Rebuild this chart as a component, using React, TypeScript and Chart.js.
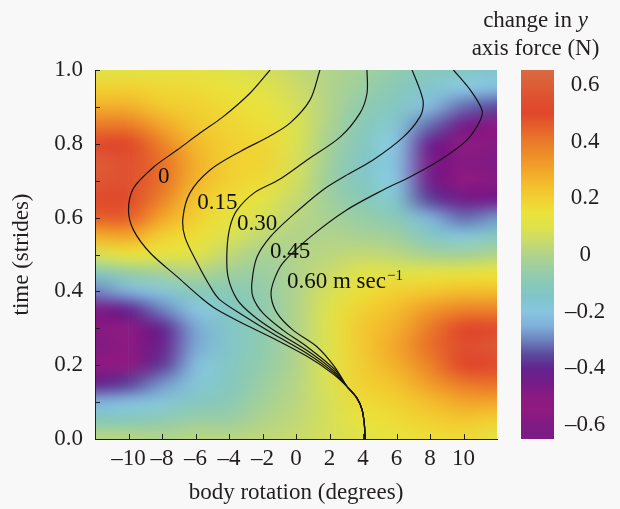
import React, { useEffect, useRef } from 'react';
import { Chart, registerables } from 'chart.js';

Chart.register(...registerables);

const FONT = "'Liberation Serif', 'Times New Roman', Times, serif";
const INK = '#231f20';

// ---- axis ticks ----
const xTickValues = [-10, -8, -6, -4, -2, 0, 2, 4, 6, 8, 10];
const yTickValues = [0, 0.1, 0.2, 0.3, 0.4, 0.5, 0.6, 0.7, 0.8, 0.9, 1.0];
const yLabelledTicks = ['0.0', '0.2', '0.4', '0.6', '0.8', '1.0'];
const cbTickValues = [-0.6, -0.4, -0.2, 0, 0.2, 0.4, 0.6];

// ---- heat map grid (change in y axis force, N) ----
const gridX = [-12, -10, -8, -6, -4, -2, 0, 2, 4, 6, 8, 10, 12];
const gridT = [0, 0.05, 0.1, 0.15, 0.2, 0.25, 0.3, 0.35, 0.4, 0.45, 0.5, 0.55, 0.6, 0.65, 0.7, 0.75, 0.8, 0.85, 0.9, 0.95, 1.0];
// each column: values at gridT (t = 0 ... 1)
const forceAtXm12 = [0.02, -0.1, -0.25, -0.42, -0.55, -0.6, -0.58, -0.48, -0.3, -0.12, 0.08, 0.28, 0.45, 0.52, 0.58, 0.6, 0.52, 0.4, 0.28, 0.2, 0.1];
const forceAtXm10 = [0.02, -0.1, -0.22, -0.36, -0.5, -0.56, -0.52, -0.4, -0.25, -0.06, 0.14, 0.3, 0.45, 0.52, 0.55, 0.55, 0.5, 0.4, 0.28, 0.2, 0.12];
const forceAtXm8 = [0.0, -0.08, -0.18, -0.28, -0.37, -0.42, -0.4, -0.3, -0.18, -0.03, 0.12, 0.2, 0.3, 0.38, 0.42, 0.42, 0.38, 0.3, 0.22, 0.18, 0.12];
const forceAtXm6 = [0.02, -0.05, -0.12, -0.18, -0.22, -0.26, -0.26, -0.2, -0.1, 0.0, 0.1, 0.16, 0.2, 0.23, 0.27, 0.28, 0.26, 0.22, 0.2, 0.17, 0.12];
const forceAtXm4 = [0.02, -0.05, -0.09, -0.12, -0.13, -0.14, -0.14, -0.13, -0.1, -0.04, 0.03, 0.09, 0.13, 0.17, 0.2, 0.2, 0.2, 0.19, 0.17, 0.14, 0.1];
const forceAtXm2 = [0.03, 0.0, -0.03, -0.05, -0.07, -0.08, -0.08, -0.08, -0.07, -0.05, -0.02, 0.03, 0.08, 0.12, 0.17, 0.19, 0.18, 0.16, 0.14, 0.11, 0.08];
const forceAtX0 = [0.05, 0.03, 0.02, 0.01, 0.0, 0.0, 0.0, 0.0, 0.0, 0.0, 0.0, 0.0, 0.02, 0.04, 0.07, 0.08, 0.09, 0.09, 0.08, 0.06, 0.04];
const forceAtX2 = [0.08, 0.08, 0.08, 0.09, 0.1, 0.1, 0.1, 0.1, 0.08, 0.05, 0.02, 0.0, -0.02, -0.04, -0.05, -0.04, -0.03, -0.01, 0.0, 0.0, 0.0];
const forceAtX4 = [0.1, 0.14, 0.17, 0.2, 0.21, 0.22, 0.22, 0.2, 0.16, 0.1, 0.04, -0.02, -0.06, -0.1, -0.13, -0.14, -0.12, -0.1, -0.08, -0.05, -0.03];
const forceAtX6 = [0.14, 0.17, 0.2, 0.24, 0.28, 0.3, 0.28, 0.25, 0.2, 0.1, 0.02, -0.04, -0.1, -0.16, -0.2, -0.21, -0.2, -0.17, -0.13, -0.1, -0.08];
const forceAtX8 = [0.16, 0.2, 0.25, 0.32, 0.38, 0.42, 0.4, 0.33, 0.22, 0.12, -0.02, -0.13, -0.25, -0.36, -0.44, -0.46, -0.42, -0.32, -0.23, -0.16, -0.1];
const forceAtX10 = [0.17, 0.22, 0.3, 0.4, 0.5, 0.53, 0.5, 0.38, 0.25, 0.13, -0.03, -0.18, -0.32, -0.45, -0.55, -0.58, -0.55, -0.45, -0.32, -0.2, -0.13];
const forceAtX12 = [0.12, 0.2, 0.3, 0.42, 0.52, 0.58, 0.52, 0.38, 0.25, 0.15, 0.0, -0.12, -0.28, -0.45, -0.58, -0.6, -0.58, -0.5, -0.35, -0.22, -0.15];
const heatColumns = [
  forceAtXm12, forceAtXm10, forceAtXm8, forceAtXm6, forceAtXm4, forceAtXm2, forceAtX0,
  forceAtX2, forceAtX4, forceAtX6, forceAtX8, forceAtX10, forceAtX12,
];

// ---- colour scale ----
const cmapValues = [-0.65, -0.6, -0.55, -0.5, -0.45, -0.4, -0.35, -0.3, -0.25, -0.2, -0.15, -0.1, -0.05, 0, 0.05, 0.1, 0.15, 0.2, 0.25, 0.3, 0.35, 0.4, 0.45, 0.5, 0.55, 0.6, 0.65];
const cmapColors = [
  '#7b1c85', '#7f1a84', '#8f1a81', '#8c1a82', '#741c89', '#62248f', '#5c4a9c', '#6d82be', '#7fb0da',
  '#88c5e0', '#81c5cb', '#88c9b8', '#9bcea3', '#b1d38b', '#cadb6c', '#dfe24a', '#ebe23a', '#f1d032',
  '#f3bd2d', '#f2a52a', '#ef8f28', '#ea7a29', '#e5602a', '#e0482a', '#df5030', '#dd5d36', '#d86a42',
];

// ---- trajectories (body rotation, time) for each speed ----
const curveNames = ['0', '0.15', '0.30', '0.45', '0.60'];
const curveSpeed000 = [[4.12, 0], [4.08, 0.04], [3.94, 0.08], [3.62, 0.112], [3.05, 0.142], [2.2, 0.177], [0.66, 0.224], [-1.37, 0.273], [-3.34, 0.317], [-4.7, 0.35], [-5.6, 0.38], [-7.1, 0.44], [-8.7, 0.504], [-9.7, 0.566], [-10.0, 0.62], [-9.7, 0.68], [-8.5, 0.737], [-7.1, 0.783], [-5.73, 0.829], [-4.36, 0.873], [-2.75, 0.937], [-1.55, 1.0]];
const curveSpeed015 = [[4.12, 0], [4.08, 0.04], [3.94, 0.08], [3.62, 0.112], [3.05, 0.142], [2.22, 0.181], [0.66, 0.232], [-1.37, 0.285], [-3.34, 0.34], [-4.54, 0.377], [-5.0, 0.404], [-5.9, 0.477], [-6.63, 0.547], [-6.75, 0.6], [-6.33, 0.667], [-5.13, 0.729], [-3.3, 0.78], [-1.6, 0.82], [-0.36, 0.856], [0.84, 0.919], [1.43, 1.0]];
const curveSpeed030 = [[4.12, 0], [4.08, 0.04], [3.94, 0.08], [3.62, 0.112], [3.05, 0.142], [2.25, 0.185], [0.66, 0.24], [-1.37, 0.296], [-2.6, 0.336], [-3.5, 0.377], [-4.06, 0.44], [-4.12, 0.512], [-3.94, 0.575], [-3.52, 0.62], [-2.5, 0.667], [-1.0, 0.703], [0.66, 0.756], [2.63, 0.818], [3.82, 0.883], [4.24, 0.937], [4.24, 1.0]];
const curveSpeed045 = [[4.12, 0], [4.08, 0.04], [3.94, 0.08], [3.62, 0.112], [3.05, 0.142], [2.3, 0.189], [0.66, 0.25], [-0.78, 0.295], [-1.97, 0.341], [-2.57, 0.385], [-2.63, 0.425], [-2.33, 0.493], [-1.55, 0.547], [-0.36, 0.6], [1.6, 0.675], [2.9, 0.712], [4.6, 0.756], [6.4, 0.818], [7.4, 0.873], [7.6, 0.91], [7.4, 0.946], [6.93, 1.0]];
const curveSpeed060 = [[4.12, 0], [4.08, 0.04], [3.94, 0.08], [3.62, 0.112], [3.05, 0.142], [2.35, 0.193], [1.25, 0.25], [-0.18, 0.295], [-1.13, 0.341], [-1.48, 0.385], [-1.37, 0.423], [-0.78, 0.477], [0.84, 0.547], [3.0, 0.62], [5.2, 0.675], [6.8, 0.71], [8.6, 0.756], [10.2, 0.81], [11.0, 0.864], [11.1, 0.892], [10.4, 0.946], [9.4, 1.0]];
const curves = [curveSpeed000, curveSpeed015, curveSpeed030, curveSpeed045, curveSpeed060];

// label anchors (data coordinates: body rotation, time) – left/baseline of text
const curveLabelX = [-8.24, -5.9, -3.52, -1.55, -0.54];
const curveLabelT = [0.694, 0.623, 0.566, 0.49, 0.409];
const unitText = ' m sec';
const unitSup = '\u22121';

const fmtMinus = (v: number, digits: number) => {
  const s = Math.abs(v).toFixed(digits);
  return v < -1e-9 ? '\u2013' + s : s;
};

function hexToRgb(h: string) {
  const n = parseInt(h.slice(1), 16);
  return [(n >> 16) & 255, (n >> 8) & 255, n & 255];
}

function colorFor(v: number) {
  const n = cmapValues.length;
  if (v <= cmapValues[0]) return hexToRgb(cmapColors[0]);
  if (v >= cmapValues[n - 1]) return hexToRgb(cmapColors[n - 1]);
  for (let i = 0; i < n - 1; i++) {
    if (v <= cmapValues[i + 1]) {
      const f = (v - cmapValues[i]) / (cmapValues[i + 1] - cmapValues[i]);
      const a = hexToRgb(cmapColors[i]);
      const b = hexToRgb(cmapColors[i + 1]);
      return a.map((c, k) => Math.round(c + (b[k] - c) * f));
    }
  }
  return hexToRgb(cmapColors[n - 1]);
}

const heatmapPlugin = {
  id: 'heatmap',
  beforeDraw(chart: any) {
    const { ctx, chartArea, scales } = chart;
    const xs = scales.x;
    const ys = scales.y;
    ctx.save();
    ctx.fillStyle = '#f8f8f8';
    ctx.fillRect(0, 0, chart.width, chart.height);
    const nx = gridX.length;
    const nt = gridT.length;
    const off = document.createElement('canvas');
    off.width = nx;
    off.height = nt;
    const octx = off.getContext('2d') as CanvasRenderingContext2D;
    const img = octx.createImageData(nx, nt);
    for (let i = 0; i < nx; i++) {
      for (let j = 0; j < nt; j++) {
        const [r, g, b] = colorFor(heatColumns[i][j]);
        const row = nt - 1 - j;
        const k = (row * nx + i) * 4;
        img.data[k] = r;
        img.data[k + 1] = g;
        img.data[k + 2] = b;
        img.data[k + 3] = 255;
      }
    }
    octx.putImageData(img, 0, 0);
    const hx = (gridX[1] - gridX[0]) / 2;
    const ht = (gridT[1] - gridT[0]) / 2;
    const left = xs.getPixelForValue(gridX[0] - hx);
    const right = xs.getPixelForValue(gridX[nx - 1] + hx);
    const top = ys.getPixelForValue(gridT[nt - 1] + ht);
    const bottom = ys.getPixelForValue(gridT[0] - ht);
    ctx.beginPath();
    ctx.rect(chartArea.left, chartArea.top, chartArea.right - chartArea.left, chartArea.bottom - chartArea.top);
    ctx.clip();
    ctx.imageSmoothingEnabled = true;
    ctx.imageSmoothingQuality = 'high';
    ctx.drawImage(off, left, top, right - left, bottom - top);
    ctx.restore();
  },
};

const overlayPlugin = {
  id: 'overlay',
  afterDraw(chart: any) {
    const { ctx, chartArea: ca, scales } = chart;
    ctx.save();
    // inward tick marks
    ctx.strokeStyle = INK;
    ctx.lineWidth = 1;
    xTickValues.forEach((v) => {
      const px = Math.round(scales.x.getPixelForValue(v)) + 0.5;
      ctx.beginPath();
      ctx.moveTo(px, ca.bottom);
      ctx.lineTo(px, ca.bottom - 5);
      ctx.stroke();
    });
    yTickValues.forEach((v) => {
      const py = Math.round(scales.y.getPixelForValue(v)) + 0.5;
      ctx.beginPath();
      ctx.moveTo(ca.left, py);
      ctx.lineTo(ca.left + 5, py);
      ctx.stroke();
    });

    // colour bar
    const cb = scales.cb;
    const x0 = cb.left + 24;
    const w = 33;
    const g = ctx.createLinearGradient(0, cb.top, 0, cb.bottom);
    cmapValues.forEach((v, i) => {
      let o = (cb.getPixelForValue(v) - cb.top) / (cb.bottom - cb.top);
      o = Math.max(0, Math.min(1, o));
      g.addColorStop(o, cmapColors[i]);
    });
    ctx.fillStyle = g;
    ctx.fillRect(x0, cb.top, w, cb.bottom - cb.top);

    // colour bar title
    const cx = x0 + w / 2 - 2;
    ctx.fillStyle = INK;
    ctx.textBaseline = 'alphabetic';
    ctx.textAlign = 'left';
    const a = 'change in ';
    const b = 'y';
    ctx.font = `23px ${FONT}`;
    const wa = ctx.measureText(a).width;
    ctx.font = `italic 23px ${FONT}`;
    const wb = ctx.measureText(b).width;
    const sx = cx - (wa + wb) / 2;
    ctx.font = `23px ${FONT}`;
    ctx.fillText(a, sx, cb.top - 43);
    ctx.font = `italic 23px ${FONT}`;
    ctx.fillText(b, sx + wa, cb.top - 43);
    ctx.font = `23px ${FONT}`;
    ctx.textAlign = 'center';
    ctx.fillText('axis force (N)', cx, cb.top - 15);

    // curve labels
    ctx.textAlign = 'left';
    ctx.fillStyle = '#111';
    curveNames.forEach((name, i) => {
      const px = scales.x.getPixelForValue(curveLabelX[i]);
      const py = scales.y.getPixelForValue(curveLabelT[i]);
      ctx.font = `23px ${FONT}`;
      if (i === curveNames.length - 1) {
        const main = name + unitText;
        ctx.fillText(main, px, py);
        const mw = ctx.measureText(main).width;
        ctx.font = `15px ${FONT}`;
        ctx.fillText(unitSup, px + mw + 1, py - 8);
      } else {
        ctx.fillText(name, px, py);
      }
    });
    ctx.restore();
  },
};

export default function App() {
  const canvasRef = useRef<HTMLCanvasElement | null>(null);

  useEffect(() => {
    const canvas = canvasRef.current;
    if (!canvas) return;
    const tickFont = { family: FONT, size: 23 };
    const chart = new Chart(canvas, {
      type: 'scatter',
      data: {
        datasets: curves.map((pts, i) => ({
          label: curveNames[i],
          data: pts.map(([x, t]) => ({ x, y: t })),
          showLine: true,
          borderColor: '#141414',
          borderWidth: 1.2,
          pointRadius: 0,
          tension: 0.3,
          fill: false,
          xAxisID: 'x',
          yAxisID: 'y',
        })),
      },
      options: {
        responsive: false,
        animation: false,
        devicePixelRatio: 1,
        layout: { padding: { top: 70, left: 0, right: 0, bottom: 0 } },
        plugins: { legend: { display: false }, tooltip: { enabled: false } },
        scales: {
          x: {
            type: 'linear',
            position: 'bottom',
            min: -12,
            max: 12,
            afterBuildTicks: (s: any) => {
              s.ticks = xTickValues.map((v) => ({ value: v }));
            },
            afterFit: (s: any) => {
              s.height = 70;
            },
            ticks: {
              callback: (v: any) => fmtMinus(Number(v), 0),
              font: tickFont,
              color: INK,
              padding: 6,
              maxRotation: 0,
              autoSkip: false,
            },
            grid: { display: false, drawTicks: false },
            border: { display: true, color: INK, width: 1 },
            title: {
              display: true,
              text: 'body rotation (degrees)',
              font: tickFont,
              color: INK,
              padding: { top: 0, bottom: 2 },
            },
          },
          y: {
            type: 'linear',
            position: 'left',
            min: 0,
            max: 1,
            afterBuildTicks: (s: any) => {
              s.ticks = yTickValues.map((v) => ({ value: v }));
            },
            afterFit: (s: any) => {
              s.width = 95;
            },
            ticks: {
              callback: (v: any) => {
                const s = Number(v).toFixed(1);
                return yLabelledTicks.includes(s) ? s : '';
              },
              font: tickFont,
              color: INK,
              padding: 12,
              autoSkip: false,
            },
            grid: { display: false, drawTicks: false },
            border: { display: true, color: INK, width: 1 },
            title: {
              display: true,
              text: 'time (strides)',
              font: tickFont,
              color: INK,
              padding: { top: 8, bottom: 0 },
            },
          },
          cb: {
            type: 'linear',
            axis: 'y',
            position: 'right',
            min: -0.649,
            max: 0.653,
            afterBuildTicks: (s: any) => {
              s.ticks = cbTickValues.map((v) => ({ value: v }));
            },
            afterFit: (s: any) => {
              s.width = 123;
            },
            ticks: {
              callback: (v: any) => {
                const n = Number(v);
                return Math.abs(n) < 1e-9 ? '0' : fmtMinus(n, 1);
              },
              font: tickFont,
              color: INK,
              padding: 0,
              crossAlign: 'center',
              autoSkip: false,
            },
            grid: { display: false, drawTicks: true, tickLength: 68 },
            border: { display: false },
          },
        },
      } as any,
      plugins: [heatmapPlugin, overlayPlugin],
    });
    return () => chart.destroy();
  }, []);

  return (
    <div style={{ position: 'absolute', left: 0, top: 0, width: 620, height: 509 }}>
      <canvas ref={canvasRef} width={620} height={509} style={{ display: 'block', width: 620, height: 509 }} />
    </div>
  );
}
